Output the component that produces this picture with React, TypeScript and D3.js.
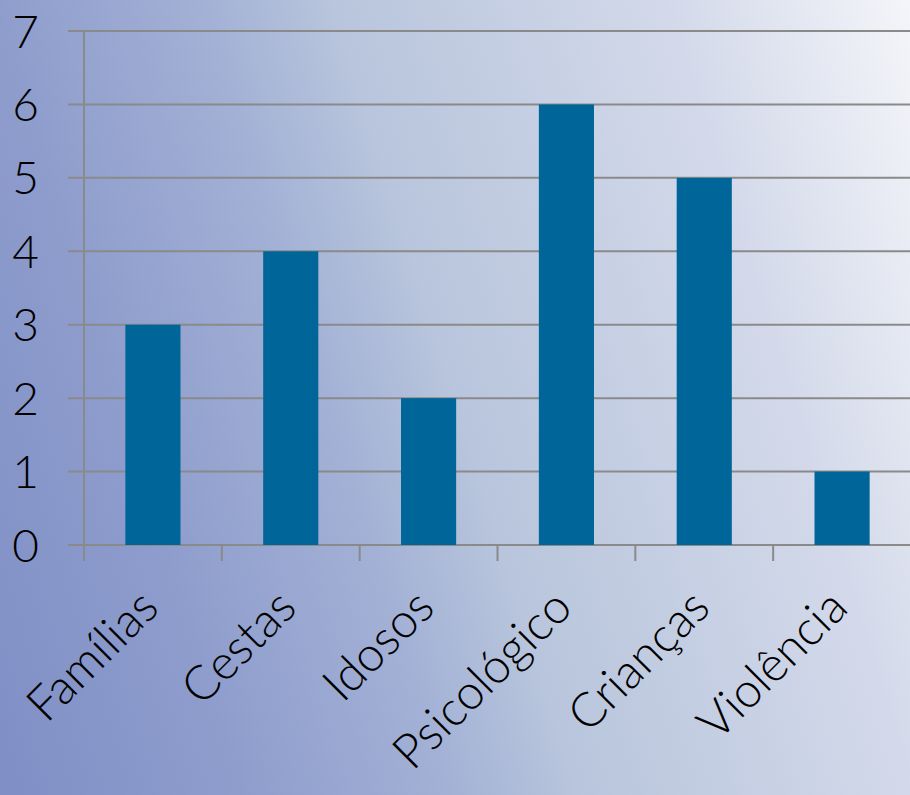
import React from "react";
import * as d3 from "d3";

const categories = ["Famílias", "Cestas", "Idosos", "Psicológico", "Crianças", "Violência"];
const values = [3, 4, 2, 6, 5, 1];
const yTicks = [0, 1, 2, 3, 4, 5, 6, 7];

const W = 910;
const H = 795;
const M = { left: 84, right: -1, top: 31, bottom: 250 };

export default function App() {
  const x = d3
    .scaleBand<string>()
    .domain(categories)
    .range([M.left, W - M.right])
    .paddingInner(0.6)
    .paddingOuter(0.3);
  const band = d3.scaleBand<string>().domain(categories).range([M.left, W - M.right]);
  const y = d3.scaleLinear().domain([0, 7]).range([H - M.bottom, M.top]);
  const font = "Lato, 'Noto Sans', sans-serif";
  const grid = "#8a8a8a";

  return (
    <svg width={W} height={H} style={{ position: "absolute", left: 0, top: 0 }}>
      <defs>
        <linearGradient id="bg" gradientUnits="userSpaceOnUse" x1={0} y1={795} x2={1054} y2={468}>
          <stop offset="0" stopColor="#7f8fc6" />
          <stop offset="0.21" stopColor="#8e9dcc" />
          <stop offset="0.39" stopColor="#a3b1d6" />
          <stop offset="0.5" stopColor="#b8c5dc" />
          <stop offset="0.79" stopColor="#d3d9ea" />
          <stop offset="1" stopColor="#f4f5f9" />
        </linearGradient>
      </defs>
      <rect x={0} y={0} width={W} height={H} fill="url(#bg)" />
      {yTicks.map((t) => (
        <g key={t}>
          <line x1={68} x2={W} y1={y(t)} y2={y(t)} stroke={grid} strokeWidth={2} />
          <text
            x={39}
            y={y(t)}
            dy="0.36em"
            textAnchor="end"
            fontFamily={font}
            fontWeight={300}
            fontSize={46}
            fill="#000"
          >
            {t}
          </text>
        </g>
      ))}
      <line x1={M.left} x2={M.left} y1={M.top} y2={y(0) + 16} stroke={grid} strokeWidth={2} />
      {categories.map((c) => (
        <line
          key={"t" + c}
          x1={(band(c) as number) + band.bandwidth()}
          x2={(band(c) as number) + band.bandwidth()}
          y1={y(0)}
          y2={y(0) + 16}
          stroke={grid}
          strokeWidth={2}
        />
      ))}
      {categories.map((c, i) => (
        <rect
          key={"b" + c}
          x={x(c)}
          y={y(values[i])}
          width={x.bandwidth()}
          height={y(0) - y(values[i])}
          fill="#006699"
        />
      ))}
      {categories.map((c) => {
        const cx = (band(c) as number) + band.bandwidth() / 2 + 8;
        const cy = y(0) + 65;
        return (
          <text
            key={"l" + c}
            transform={`translate(${cx},${cy}) rotate(-45)`}
            textAnchor="end"
            fontFamily={font}
            fontWeight={300}
            fontSize={48}
            fill="#000"
          >
            {c}
          </text>
        );
      })}
    </svg>
  );
}
